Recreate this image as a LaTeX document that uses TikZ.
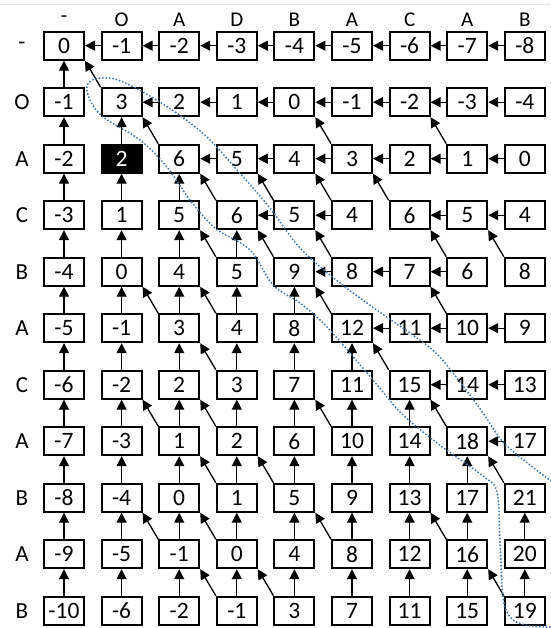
\documentclass[tikz,border=0pt]{standalone}
\usepackage{fontspec}
\setmainfont{Carlito}
\usetikzlibrary{arrows.meta}
\definecolor{dotblue}{RGB}{65,120,175}
\begin{document}
\begin{tikzpicture}[x=1pt,y=-1pt,
  cell/.style={draw=black,line width=2pt,minimum width=40pt,minimum height=28pt,inner sep=0pt,font=\fontsize{23.5}{23.5}\selectfont},
  blackcell/.style={cell,fill=black,text=white},
  hdr/.style={font=\fontsize{21}{21}\selectfont},
  rowlab/.style={font=\fontsize{23}{23}\selectfont},
  arr/.style={line width=1.3pt,-{Triangle[length=10pt,width=10pt]}},
  trace/.style={dotblue,line width=2.1pt,dash pattern=on 0pt off 3.4pt,line cap=round}
]
\useasboundingbox (0,0) rectangle (550,628);
\draw[gray!18,line width=0.8pt] (0,4) -- (550,4);
% headers
\foreach \h [count=\j from 0] in {-,O,A,D,B,A,C,A,B}
  \node[hdr] (h-\j) at ({64+57.6*\j},19.5) {\h};
\foreach \h [count=\i from 0] in {-,O,A,C,B,A,C,A,B,A,B}
  \node[rowlab] (r-\i) at (22,{45.7+56.5*\i}) {\h};
% cells
\foreach \r [count=\i from 0] in {
  {0,-1,-2,-3,-4,-5,-6,-7,-8},
  {-1,3,2,1,0,-1,-2,-3,-4},
  {-2,2,6,5,4,3,2,1,0},
  {-3,1,5,6,5,4,6,5,4},
  {-4,0,4,5,9,8,7,6,8},
  {-5,-1,3,4,8,12,11,10,9},
  {-6,-2,2,3,7,11,15,14,13},
  {-7,-3,1,2,6,10,14,18,17},
  {-8,-4,0,1,5,9,13,17,21},
  {-9,-5,-1,0,4,8,12,16,20},
  {-10,-6,-2,-1,3,7,11,15,19}}
{
  \foreach \v [count=\j from 0] in \r
    \node[cell] (c-\i-\j) at ({64+57.6*\j},{45.7+56.5*\i}) {\v};
}
\node[blackcell] (c-2-1) at ({64+57.6*1},{45.7+56.5*2}) {2};
% left arrows
\foreach \i/\j in {0/1,0/2,0/3,0/4,0/5,0/6,0/7,0/8,
  1/2,1/3,1/4,1/5,1/6,1/7,1/8,
  2/3,2/4,2/5,2/6,2/7,2/8,
  3/4,3/5,3/7,3/8,
  4/5,4/6,4/7,
  5/6,5/7,5/8,
  6/7,6/8,
  7/8}
{
  \pgfmathtruncatemacro{\jm}{\j-1}
  \draw[arr] (c-\i-\j.west) -- (c-\i-\jm.east);
}
% up arrows
\foreach \i/\j in {1/0,
  2/0,2/1,
  3/0,3/1,3/2,
  4/0,4/1,4/2,4/3,
  5/0,5/1,5/2,5/3,5/4,
  6/0,6/1,6/2,6/3,6/4,6/5,
  7/0,7/1,7/2,7/3,7/4,7/5,7/6,
  8/0,8/1,8/2,8/3,8/4,8/5,8/6,8/7,
  9/0,9/1,9/2,9/3,9/4,9/5,9/6,9/7,9/8,
  10/0,10/1,10/2,10/3,10/4,10/5,10/6,10/7,10/8}
{
  \pgfmathtruncatemacro{\im}{\i-1}
  \draw[arr] (c-\i-\j.north) -- (c-\im-\j.south);
}
% diagonal arrows
\foreach \i/\j in {1/1,
  2/2,2/5,2/7,
  3/3,3/4,3/5,3/6,
  4/3,4/4,4/5,4/7,4/8,
  5/2,5/3,5/5,5/7,
  6/3,6/6,
  7/2,7/3,7/5,7/7,
  8/3,8/4,8/8,
  9/2,9/3,9/5,9/7,
  10/3,10/4,10/8}
{
  \pgfmathtruncatemacro{\im}{\i-1}
  \pgfmathtruncatemacro{\jm}{\j-1}
  \draw[arr] (c-\i-\j.north west) -- (c-\im-\jm.south east);
}
% dotted trace
\draw[trace] plot[smooth,tension=0.55] coordinates {
  (551,481) (530,465) (503,442) (483,413) (460,382) (437,354) (410,333)
  (388,318) (340,283) (300,248) (270,208) (237,170) (207,137) (175,112)
  (143,92) (115,79) (95,79) (87,86) (90,100) (103,117) (140,140) (167,167)
  (190,200) (215,228) (250,250) (273,285) (300,303) (327,327) (373,380)
  (400,412) (437,443) (483,476) (497,492) (500,543) (503,597) (510,617)
  (525,625) (551,627)};
\end{tikzpicture}
\end{document}
